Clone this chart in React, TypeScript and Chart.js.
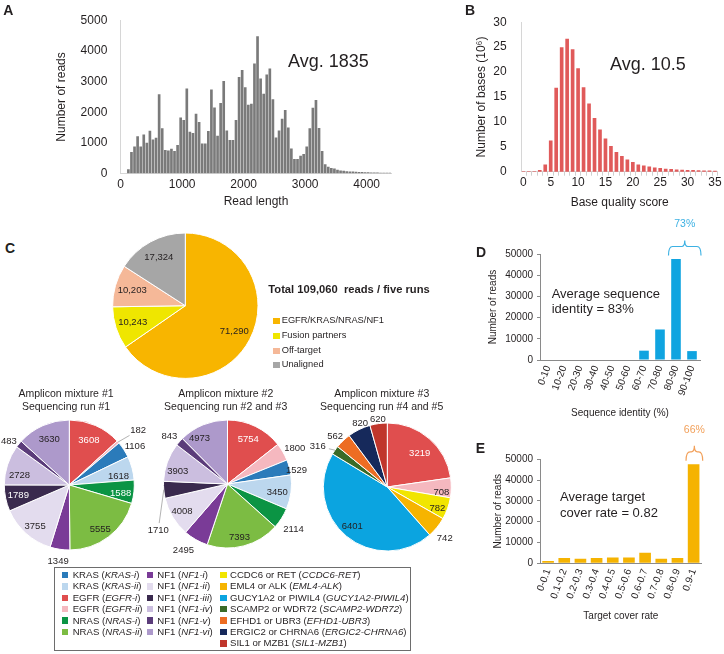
import React, { useEffect, useRef } from 'react';
import { Chart, registerables } from 'chart.js';

Chart.register(...registerables);

const FF = '"Liberation Sans", Arial, Helvetica, sans-serif';
const INK = '#231f20';

/* ---------------- Panel A : read length histogram ---------------- */
const readLengthBinStart = 100;
const readLengthBinWidth = 50;
const readLengthCounts = [
  124, 690, 866, 1206, 866, 1258, 990, 1381, 1093, 1155,
  2577, 1464, 753, 732, 794, 722, 918, 1814, 1732, 2763,
  1350, 1309, 1938, 1670, 969, 969, 1371, 2732, 2144, 1216,
  2289, 3010, 1392, 1082, 1082, 1732, 3144, 3371, 2804, 2237,
  2268, 3588, 4480, 3093, 2598, 3227, 3423, 2412, 1165, 1392,
  1773, 2062, 1485, 804, 454, 454, 567, 619, 866, 1464,
  2134, 2392, 1474, 722, 289, 206, 165, 144, 103, 82,
  70, 60, 52, 45, 40, 35, 30, 26, 22, 19, 16, 13, 11, 9, 7, 5,
];
const readLengthTicks = [0, 1000, 2000, 3000, 4000];
const readCountTicks = [0, 1000, 2000, 3000, 4000, 5000];

/* ---------------- Panel B : base quality ---------------- */
const qualityScores = [
  0, 1, 2, 3, 4, 5, 6, 7, 8, 9, 10, 11, 12, 13, 14, 15, 16, 17,
  18, 19, 20, 21, 22, 23, 24, 25, 26, 27, 28, 29, 30, 31, 32, 33, 34, 35,
];
const basesMillions = [
  0, 0, 0, 0.3, 1.4, 6.2, 16.8, 24.9, 26.6, 24.5, 20.7, 16.9, 13.6, 10.7, 8.4, 6.6, 5.1, 3.9,
  3.1, 2.4, 1.9, 1.4, 1.2, 1.0, 0.8, 0.7, 0.55, 0.5, 0.4, 0.35, 0.3, 0.25, 0.2, 0.18, 0.15, 0.12,
];
const qualityTicks = [0, 5, 10, 15, 20, 25, 30, 35];
const basesTicks = [0, 5, 10, 15, 20, 25, 30];

/* ---------------- Panel C : pies ---------------- */
const overviewCategories = ['EGFR/KRAS/NRAS/NF1', 'Fusion partners', 'Off-target', 'Unaligned'];
const overviewReads = [71290, 10243, 10203, 17324];
const overviewColors = ['#f8b500', '#efe600', '#f5b898', '#a6a6a6'];

const mixture12Amplicons = ['EGFR-i', 'EGFR-ii', 'KRAS-i', 'KRAS-ii', 'NRAS-i', 'NRAS-ii', 'NF1-i', 'NF1-ii', 'NF1-iii', 'NF1-iv', 'NF1-v', 'NF1-vi'];
const mixture1Reads = [3608, 182, 1106, 1618, 1588, 5555, 1349, 3755, 1789, 2728, 483, 3630];
const mixture2Reads = [5754, 1800, 1529, 3450, 2114, 7393, 2495, 4008, 1710, 3903, 843, 4973];
const mixture3Amplicons = ['EGFR-i', 'EGFR-ii', 'CCDC6-RET', 'EML4-ALK', 'GUCY1A2-PIWIL4', 'SCAMP2-WDR72', 'EFHD1-UBR3', 'ERGIC2-CHRNA6', 'SIL1-MZB1'];
const mixture3Reads = [3219, 708, 782, 742, 6401, 316, 562, 820, 620];

const ampliconColors: Record<string, string> = {
  'KRAS-i': '#2b7bba',
  'KRAS-ii': '#bcd7ee',
  'EGFR-i': '#e04e4e',
  'EGFR-ii': '#f5b8bf',
  'NRAS-i': '#0b9444',
  'NRAS-ii': '#7cbc43',
  'NF1-i': '#7a3b97',
  'NF1-ii': '#e3dcee',
  'NF1-iii': '#3a2a4e',
  'NF1-iv': '#cbbedf',
  'NF1-v': '#5b3c7a',
  'NF1-vi': '#ad99cb',
  'CCDC6-RET': '#f1e500',
  'EML4-ALK': '#f6b400',
  'GUCY1A2-PIWIL4': '#0ba4e0',
  'SCAMP2-WDR72': '#3b6b27',
  'EFHD1-UBR3': '#ed6d23',
  'ERGIC2-CHRNA6': '#16295b',
  'SIL1-MZB1': '#c0362c',
};

const legendColumns: [string, string][][] = [
  [['KRAS', 'KRAS-i'], ['KRAS', 'KRAS-ii'], ['EGFR', 'EGFR-i'], ['EGFR', 'EGFR-ii'], ['NRAS', 'NRAS-i'], ['NRAS', 'NRAS-ii']],
  [['NF1', 'NF1-i'], ['NF1', 'NF1-ii'], ['NF1', 'NF1-iii'], ['NF1', 'NF1-iv'], ['NF1', 'NF1-v'], ['NF1', 'NF1-vi']],
  [['CCDC6 or RET', 'CCDC6-RET'], ['EML4 or ALK', 'EML4-ALK'], ['GUCY1A2 or PIWIL4', 'GUCY1A2-PIWIL4'], ['SCAMP2 or WDR72', 'SCAMP2-WDR72'], ['EFHD1 or UBR3', 'EFHD1-UBR3'], ['ERGIC2 or CHRNA6', 'ERGIC2-CHRNA6'], ['SIL1 or MZB1', 'SIL1-MZB1']],
];

/* ---------------- Panel D : sequence identity ---------------- */
const identityBins = ['0-10', '10-20', '20-30', '30-40', '40-50', '50-60', '60-70', '70-80', '80-90', '90-100'];
const identityReads = [0, 0, 0, 0, 0, 0, 4400, 14400, 47700, 4200];

/* ---------------- Panel E : target cover rate ---------------- */
const coverBins = ['0-0.1', '0.1-0.2', '0.2-0.3', '0.3-0.4', '0.4-0.5', '0.5-0.6', '0.6-0.7', '0.7-0.8', '0.8-0.9', '0.9-1'];
const coverReads = [1100, 2500, 2200, 2500, 2800, 2800, 5100, 2200, 2500, 47600];
const readTicksDE = [0, 10000, 20000, 30000, 40000, 50000];

/* ---------------- label placement (style only) ---------------- */
type LabelSpec = { rf: number; dA?: number; color?: string; leader?: boolean };
const overviewLabelSpec: LabelSpec[] = [{ rf: 0.76 }, { rf: 0.76 }, { rf: 0.76 }, { rf: 0.76 }];
const mixture1LabelSpec: LabelSpec[] = [
  { rf: 0.75, color: '#fff' }, { rf: 1.35, dA: 3, leader: true }, { rf: 1.17, dA: 2.6 }, { rf: 0.77, dA: 5 },
  { rf: 0.8, dA: 3, color: '#fff' }, { rf: 0.83, dA: 2 }, { rf: 1.18 }, { rf: 0.82, dA: -2 },
  { rf: 0.8, color: '#fff' }, { rf: 0.78, dA: -7 }, { rf: 1.15, dA: -3 }, { rf: 0.76 },
];
const mixture2LabelSpec: LabelSpec[] = [
  { rf: 0.77, dA: -1, color: '#fff' }, { rf: 1.19, dA: 2 }, { rf: 1.1, dA: 3.6 }, { rf: 0.79, dA: 2.6 },
  { rf: 1.25, dA: 2 }, { rf: 0.85, dA: 2 }, { rf: 1.25, dA: 3.7 }, { rf: 0.83 },
  { rf: 1.3, dA: -28.4, leader: true }, { rf: 0.8, dA: -6 }, { rf: 1.17, dA: -2.4 }, { rf: 0.84, dA: -9 },
];
const mixture3LabelSpec: LabelSpec[] = [
  { rf: 0.73, dA: 3, color: '#fff' }, { rf: 0.85, dA: 4.5 }, { rf: 0.85, dA: 3.3 }, { rf: 1.2, dA: 2.5 },
  { rf: 0.82, dA: 2 }, { rf: 1.26, dA: -4.7, leader: true }, { rf: 1.13, dA: -2.4 }, { rf: 1.08, dA: 3 }, { rf: 1.07 },
];

/* ---------------- plugins ---------------- */
const pieLabelPlugin = (specs: LabelSpec[], fmt: (v: number) => string) => ({
  id: 'pieLabels',
  afterDatasetsDraw(chart: any) {
    const ctx = chart.ctx;
    const meta = chart.getDatasetMeta(0);
    const values = chart.data.datasets[0].data as number[];
    ctx.save();
    ctx.font = `9.5px ${FF}`;
    ctx.textAlign = 'center';
    ctx.textBaseline = 'middle';
    meta.data.forEach((arc: any, i: number) => {
      const s = specs[i];
      const p = arc.getProps(['x', 'y', 'startAngle', 'endAngle', 'outerRadius'], true);
      const mid = (p.startAngle + p.endAngle) / 2;
      const a = mid + ((s.dA || 0) * Math.PI) / 180;
      const lx = p.x + Math.cos(a) * p.outerRadius * s.rf;
      const ly = p.y + Math.sin(a) * p.outerRadius * s.rf;
      if (s.leader) {
        const ex = p.x + Math.cos(mid) * p.outerRadius;
        const ey = p.y + Math.sin(mid) * p.outerRadius;
        const vx = ex - lx;
        const vy = ey - ly;
        const len = Math.hypot(vx, vy);
        const ux = vx / len;
        const uy = vy / len;
        const pad = 1 / Math.sqrt((ux / 12) ** 2 + (uy / 7) ** 2);
        ctx.strokeStyle = '#a0a0a0';
        ctx.lineWidth = 0.8;
        ctx.beginPath();
        ctx.moveTo(ex, ey);
        ctx.lineTo(lx + ux * pad, ly + uy * pad);
        ctx.stroke();
      }
      ctx.fillStyle = s.color || INK;
      ctx.fillText(fmt(values[i]), lx, ly);
    });
    ctx.restore();
  },
});

const bracePlugin = (fromIdx: number, toIdx: number, text: string, color: string) => ({
  id: 'brace',
  afterDatasetsDraw(chart: any) {
    const { ctx, chartArea } = chart;
    const x = chart.scales.x;
    const half = (x.getPixelForValue(1) - x.getPixelForValue(0)) / 2;
    const x0 = x.getPixelForValue(fromIdx) - half + 0.5;
    const x1 = x.getPixelForValue(toIdx) + half + 1;
    const legs = chartArea.top + 1.5;
    const horiz = legs - 9;
    const spike = horiz - 6;
    const mid = (x0 + x1) / 2;
    ctx.save();
    ctx.strokeStyle = color;
    ctx.lineWidth = 1.2;
    ctx.beginPath();
    ctx.moveTo(x0, legs);
    ctx.quadraticCurveTo(x0, horiz, x0 + 4, horiz);
    ctx.lineTo(mid - 3, horiz);
    ctx.quadraticCurveTo(mid, horiz, mid, spike);
    ctx.quadraticCurveTo(mid, horiz, mid + 3, horiz);
    ctx.lineTo(x1 - 4, horiz);
    ctx.quadraticCurveTo(x1, horiz, x1, legs);
    ctx.stroke();
    ctx.fillStyle = color;
    ctx.font = `10.5px ${FF}`;
    ctx.textAlign = 'center';
    ctx.textBaseline = 'middle';
    ctx.fillText(text, mid, spike - 16);
    ctx.restore();
  },
});

/* ---------------- chart configs ---------------- */
type Rect = [number, number, number, number];

const f12 = { family: FF, size: 12 };
const f10 = { family: FF, size: 10 };
const noPlugins = { legend: { display: false }, tooltip: { enabled: false } };

const configA = (): any => ({
  type: 'bar',
  data: {
    datasets: [{
      data: readLengthCounts.map((y, i) => ({ x: readLengthBinStart + readLengthBinWidth * (i + 0.5), y })),
      backgroundColor: '#7a7a7a',
      barThickness: 2,
    }],
  },
  options: {
    animation: false, responsive: false, events: [],
    layout: { padding: { left: 50, top: 13.3, right: 8.7, bottom: 1 } },
    plugins: noPlugins,
    scales: {
      x: {
        type: 'linear', min: 0, max: 4400, offset: false,
        afterBuildTicks: (s: any) => { s.ticks = readLengthTicks.map((v) => ({ value: v })); },
        afterFit: (s: any) => { s.height = 39.7; s.paddingLeft = 0; s.paddingRight = 0; },
        grid: { display: false, drawTicks: false },
        border: { display: true, color: '#d6d6d6' },
        ticks: { padding: 4.5, font: f12, color: INK, maxRotation: 0, autoSkip: false, callback: (v: any) => String(v) },
        title: { display: true, text: 'Read length', font: f12, color: INK, padding: { top: 0, bottom: 4 } },
      },
      y: {
        min: 0, max: 5000,
        afterBuildTicks: (s: any) => { s.ticks = readCountTicks.map((v) => ({ value: v })); },
        afterFit: (s: any) => { s.width = 70.7; },
        grid: { display: false, drawTicks: false },
        border: { display: true, color: '#d6d6d6' },
        ticks: { padding: 13.4, font: f12, color: INK, callback: (v: any) => String(v) },
        title: { display: true, text: 'Number of reads', font: f12, color: INK, padding: { top: 4.5, bottom: 0 } },
      },
    },
  },
});

const configB = (): any => ({
  type: 'bar',
  data: {
    datasets: [{
      data: qualityScores.map((q, i) => ({ x: q, y: basesMillions[i] })),
      backgroundColor: '#e05a5a',
      barThickness: 3,
    }],
  },
  options: {
    animation: false, responsive: false, events: [],
    layout: { padding: { left: 30, top: 11.7, right: 6.3, bottom: 0.8 } },
    plugins: noPlugins,
    scales: {
      x: {
        type: 'linear', min: -0.3, max: 35.5, offset: false,
        afterBuildTicks: (s: any) => { s.ticks = qualityScores.map((v) => ({ value: v })); },
        afterFit: (s: any) => { s.height = 42.5; s.paddingLeft = 0; s.paddingRight = 0; },
        grid: { display: true, drawOnChartArea: false, drawTicks: true, tickLength: 4, color: '#cfcfcf' },
        border: { display: true, color: '#d6d6d6' },
        ticks: {
          padding: 0, font: f12, color: INK, maxRotation: 0, autoSkip: false,
          callback: (v: any) => (qualityTicks.includes(v) ? String(v) : ''),
        },
        title: { display: true, text: 'Base quality score', font: f12, color: INK, padding: { top: 0, bottom: 4 } },
      },
      y: {
        min: 0, max: 30,
        afterBuildTicks: (s: any) => { s.ticks = basesTicks.map((v) => ({ value: v })); },
        afterFit: (s: any) => { s.width = 51.7; },
        grid: { display: false, drawTicks: false },
        border: { display: true, color: '#d6d6d6' },
        ticks: { padding: 15, font: f12, color: INK, callback: (v: any) => String(v) },
        title: { display: true, text: 'Number of bases (10\u2076)', font: f12, color: INK, padding: { top: 4.5, bottom: 0 } },
      },
    },
  },
});

const histConfig = (
  labels: string[], values: number[], color: string, barPct: number, title: string,
  pad: { left: number; top: number; right: number; bottom: number }, yWidth: number, xHeight: number,
  titlePadTop: number, brace: any,
): any => ({
  type: 'bar',
  data: { labels, datasets: [{ data: values, backgroundColor: color, barPercentage: barPct, categoryPercentage: 1 }] },
  options: {
    animation: false, responsive: false, events: [],
    layout: { padding: pad },
    plugins: noPlugins,
    scales: {
      x: {
        afterFit: (s: any) => { s.height = xHeight; s.paddingLeft = 0; s.paddingRight = 0; },
        grid: { display: false, drawTicks: false },
        border: { display: true, color: '#8a8a8a' },
        ticks: { padding: 4, font: f10, color: INK, minRotation: 70, maxRotation: 70, autoSkip: false },
        title: { display: true, text: title, font: f10, color: INK, padding: { top: 0, bottom: 4 } },
      },
      y: {
        min: 0, max: 50000,
        afterBuildTicks: (s: any) => { s.ticks = readTicksDE.map((v) => ({ value: v })); },
        afterFit: (s: any) => { s.width = yWidth; },
        grid: { display: true, drawOnChartArea: false, drawTicks: true, tickLength: 3, color: '#8a8a8a' },
        border: { display: true, color: '#8a8a8a' },
        ticks: { padding: 4, font: f10, color: INK, callback: (v: any) => String(v) },
        title: { display: true, text: 'Number of reads', font: f10, color: INK, padding: { top: titlePadTop, bottom: 0 } },
      },
    },
  },
  plugins: [brace],
});

const pieConfig = (
  labels: string[], values: number[], colors: string[], specs: LabelSpec[], fmt: (v: number) => string,
  rect: Rect, cx: number, cy: number, r: number,
): any => {
  const [L, T, W, H] = rect;
  const half = r + 0.5;
  return {
    type: 'pie',
    data: { labels, datasets: [{ data: values, backgroundColor: colors, borderColor: '#ffffff', borderWidth: 1 }] },
    options: {
      animation: false, responsive: false, events: [],
      layout: {
        padding: {
          left: cx - L - half,
          top: cy - T - half,
          right: W - (cx - L + half),
          bottom: H - (cy - T + half),
        },
      },
      plugins: noPlugins,
    },
    plugins: [pieLabelPlugin(specs, fmt)],
  };
};

/* ---------------- rects ---------------- */
const rectA: Rect = [0, 0, 400, 214];
const rectB: Rect = [440, 0, 284, 215];
const rectTop: Rect = [100, 225, 170, 165];
const rectP1: Rect = [0, 410, 152, 160];
const rectP2: Rect = [145, 410, 165, 155];
const rectP3: Rect = [300, 405, 165, 150];
const rectD: Rect = [480, 205, 244, 225];
const rectE: Rect = [480, 418, 244, 236];

const plain = (v: number) => String(v);
const comma = (v: number) => v.toLocaleString('en-US');

function ChartCanvas({ rect, make }: { rect: Rect; make: () => any }) {
  const ref = useRef<HTMLCanvasElement>(null);
  useEffect(() => {
    const chart = new Chart(ref.current as HTMLCanvasElement, make());
    return () => chart.destroy();
  }, []);
  const [l, t, w, h] = rect;
  return (
    <canvas
      ref={ref}
      width={w}
      height={h}
      style={{ position: 'absolute', left: l, top: t, width: w, height: h }}
    />
  );
}

function Txt({ x, y, size, bold, color, align, children, pre }: any) {
  const tx = align === 'center' ? '-50%' : align === 'right' ? '-100%' : '0';
  return (
    <div
      style={{
        position: 'absolute', left: x, top: y, transform: `translate(${tx}, -50%)`,
        fontFamily: FF, fontSize: size, fontWeight: bold ? 'bold' : 'normal', color: color || INK,
        lineHeight: 1, whiteSpace: pre ? 'pre' : 'nowrap',
      }}
    >
      {children}
    </div>
  );
}

function Swatch({ x, y, size, color }: any) {
  return (
    <div style={{ position: 'absolute', left: x, top: y - size / 2, width: size, height: size, background: color }} />
  );
}

export default function App() {
  const topLegendRows = [320.7, 335.7, 350.7, 365.3];
  const legendRowY = (i: number) => 575 + i * 11.4;
  const legendColX = [
    { sw: 61.7, tx: 72.7 },
    { sw: 146.7, tx: 157.3 },
    { sw: 220, tx: 230 },
  ];

  return (
    <div style={{ position: 'absolute', left: 0, top: 0, width: 724, height: 654, background: '#fff', overflow: 'hidden' }}>
      <ChartCanvas rect={rectA} make={configA} />
      <ChartCanvas rect={rectB} make={configB} />
      <ChartCanvas
        rect={rectTop}
        make={() => pieConfig(overviewCategories, overviewReads, overviewColors, overviewLabelSpec, comma, rectTop, 185.3, 305.7, 72.7)}
      />
      <ChartCanvas
        rect={rectP1}
        make={() => pieConfig(mixture12Amplicons, mixture1Reads, mixture12Amplicons.map((a) => ampliconColors[a]), mixture1LabelSpec, plain, rectP1, 69.3, 485, 65)}
      />
      <ChartCanvas
        rect={rectP2}
        make={() => pieConfig(mixture12Amplicons, mixture2Reads, mixture12Amplicons.map((a) => ampliconColors[a]), mixture2LabelSpec, plain, rectP2, 227.5, 484, 64)}
      />
      <ChartCanvas
        rect={rectP3}
        make={() => pieConfig(mixture3Amplicons, mixture3Reads, mixture3Amplicons.map((a) => ampliconColors[a]), mixture3LabelSpec, plain, rectP3, 387.3, 487, 64)}
      />
      <ChartCanvas
        rect={rectD}
        make={() => histConfig(identityBins, identityReads, '#10a4e0', 0.6, 'Sequence identity (%)',
          { left: 4, top: 49, right: 24, bottom: 6.7 }, 56, 63.3, 3.7, bracePlugin(8, 9, '73%', '#3cb1e3'))}
      />
      <ChartCanvas
        rect={rectE}
        make={() => histConfig(coverBins, coverReads, '#f5b301', 0.72, 'Target cover rate',
          { left: 8, top: 41.3, right: 22.3, bottom: 27.3 }, 52, 63.4, 4.3, bracePlugin(9, 9, '66%', '#f2a05a'))}
      />

      {/* panel letters */}
      <Txt x={8.3} y={10} size={14} bold align="center">A</Txt>
      <Txt x={470} y={10} size={14} bold align="center">B</Txt>
      <Txt x={10} y={248} size={14} bold align="center">C</Txt>
      <Txt x={481} y={252} size={14} bold align="center">D</Txt>
      <Txt x={480.5} y={448} size={14} bold align="center">E</Txt>

      {/* annotations */}
      <Txt x={288} y={61} size={18}>Avg. 1835</Txt>
      <Txt x={610} y={64} size={18}>Avg. 10.5</Txt>
      <Txt x={268.3} y={290} size={11.2} bold pre>Total 109,060  reads / five runs</Txt>
      <Txt x={551.7} y={292.7} size={13}>Average sequence</Txt>
      <Txt x={551.7} y={308.3} size={13}>identity = 83%</Txt>
      <Txt x={560} y={496} size={13}>Average target</Txt>
      <Txt x={560} y={511.7} size={13}>cover rate = 0.82</Txt>

      {/* top pie legend */}
      {overviewCategories.map((c, i) => (
        <React.Fragment key={c}>
          <Swatch x={273.3} y={topLegendRows[i]} size={6.3} color={overviewColors[i]} />
          <Txt x={281.7} y={topLegendRows[i]} size={9.3}>{c}</Txt>
        </React.Fragment>
      ))}

      {/* pie titles */}
      <Txt x={66} y={393.3} size={10.5} align="center">Amplicon mixture #1</Txt>
      <Txt x={66} y={406} size={10.5} align="center">Sequencing run #1</Txt>
      <Txt x={225.7} y={393.3} size={10.5} align="center">Amplicon mixture #2</Txt>
      <Txt x={225.7} y={406} size={10.5} align="center">Sequencing run #2 and #3</Txt>
      <Txt x={381.7} y={393.3} size={10.5} align="center">Amplicon mixture #3</Txt>
      <Txt x={381.7} y={406} size={10.5} align="center">Sequencing run #4 and #5</Txt>

      {/* amplicon legend */}
      <div style={{ position: 'absolute', left: 54, top: 567.3, width: 357, height: 83.4, border: '1px solid #6d6d6d', boxSizing: 'border-box' }} />
      {legendColumns.map((col, ci) =>
        col.map(([gene, amp], ri) => (
          <React.Fragment key={amp}>
            <Swatch x={legendColX[ci].sw} y={legendRowY(ri)} size={6.5} color={ampliconColors[amp]} />
            <Txt x={legendColX[ci].tx} y={legendRowY(ri)} size={9.6}>
              {gene} (<i>{amp}</i>)
            </Txt>
          </React.Fragment>
        )),
      )}
    </div>
  );
}
